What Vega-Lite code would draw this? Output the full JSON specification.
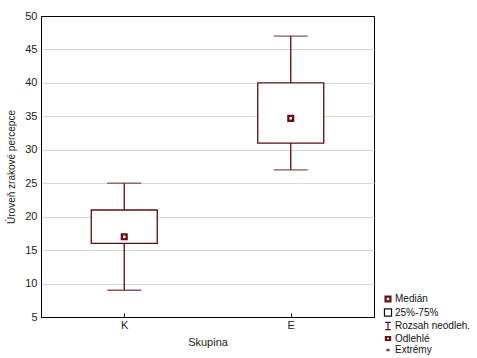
{
  "$schema": "https://vega.github.io/schema/vega-lite/v6.json",
  "autosize": {"type": "none"},
  "padding": {"left": 41, "top": 16, "right": 103, "bottom": 41},
  "width": 333,
  "height": 301,
  "background": "white",
  "config": {
    "view": {"stroke": "black", "strokeWidth": 1},
    "font": "Liberation Sans",
    "axisY": {
      "tickCount": 10,
      "labelOverlap": false,
      "labelFontSize": 11,
      "labelColor": "#222",
      "labelPadding": 4,
      "ticks": false,
      "domain": true,
      "domainColor": "black",
      "domainWidth": 1,
      "gridColor": {"condition": {"test": "datum.value == 50 || datum.value == 5", "value": "black"}, "value": "#d6d6d6"},
      "gridWidth": 1,
      "titleFontSize": 10,
      "titleFontWeight": "normal",
      "titleColor": "#222",
      "titlePadding": 8
    }
  },
  "data": {
    "values": [
      {"skupina": "K", "low": 9, "q1": 16, "median": 17, "q3": 21, "high": 25, "item": "Medián"},
      {"skupina": "E", "low": 27, "q1": 31, "median": 34.7, "q3": 40, "high": 47, "item": "Medián"}
    ]
  },
  "encoding": {
    "x": {
      "field": "skupina",
      "type": "nominal",
      "sort": ["K", "E"],
      "scale": {"type": "point", "padding": 0.5},
      "axis": {
        "title": "Skupina",
        "labelAngle": 0,
        "labelFontSize": 11,
        "labelColor": "#222",
        "labelPadding": 6,
        "titleFontSize": 11,
        "titleFontWeight": "normal",
        "titleColor": "#222",
        "titlePadding": 6,
        "domain": true,
        "domainColor": "black",
        "tickSize": -4,
        "tickColor": "black",
        "grid": false
      }
    }
  },
  "layer": [
    {
      "mark": {"type": "rule", "color": "#5e0c14", "strokeWidth": 1.3},
      "encoding": {
        "y": {
          "field": "low",
          "type": "quantitative",
          "scale": {"domain": [5, 50], "nice": false, "zero": false},
          "axis": {"title": "Úroveň zrakové percepce"}
        },
        "y2": {"field": "high"}
      }
    },
    {
      "mark": {"type": "tick", "color": "#5e0c14", "size": 34, "thickness": 1.3},
      "encoding": {"y": {"field": "low", "type": "quantitative", "axis": {"title": "Úroveň zrakové percepce"}}}
    },
    {
      "mark": {"type": "tick", "color": "#5e0c14", "size": 34, "thickness": 1.3},
      "encoding": {"y": {"field": "high", "type": "quantitative", "axis": {"title": "Úroveň zrakové percepce"}}}
    },
    {
      "mark": {"type": "bar", "fill": "white", "stroke": "#5e0c14", "strokeWidth": 1.3, "size": 66},
      "encoding": {
        "y": {"field": "q1", "type": "quantitative", "axis": {"title": "Úroveň zrakové percepce"}},
        "y2": {"field": "q3"}
      }
    },
    {
      "mark": {"type": "point", "filled": true, "size": 50, "strokeWidth": 0, "opacity": 1},
      "encoding": {
        "y": {"field": "median", "type": "quantitative", "axis": {"title": "Úroveň zrakové percepce"}},
        "shape": {
          "field": "item",
          "type": "nominal",
          "scale": {
            "domain": ["Medián", "25%-75%", "Rozsah neodleh.", "Odlehlé", "Extrémy"],
            "range": [
              "M-1,-1H1V1H-1Z M-0.35,-0.35V0.35H0.35V-0.35Z",
              "M-1,-1H1V1H-1Z",
              "M-0.8,-1H0.8M0,-1V1M-0.8,1H0.8",
              "M-0.9,-0.7H0.9V0.7H-0.9Z M-0.3,-0.2V0.2H0.3V-0.2Z",
              "M-0.6,0H0.6M0,-0.45V0.45"
            ]
          },
          "legend": {
            "title": null,
            "orient": "none",
            "legendX": 342,
            "legendY": 278,
            "labelFontSize": 10,
            "labelColor": "#111",
            "labelOffset": 2,
            "symbolSize": 50,
            "symbolStrokeWidth": 1.2,
            "rowPadding": 1.5,
            "symbolOffset": 0
          }
        },
        "fill": {
          "field": "item",
          "type": "nominal",
          "scale": {
            "domain": ["Medián", "25%-75%", "Rozsah neodleh.", "Odlehlé", "Extrémy"],
            "range": ["#6b0e18", "transparent", "transparent", "#6b0e18", "transparent"]
          },
          "legend": null
        },
        "stroke": {
          "field": "item",
          "type": "nominal",
          "scale": {
            "domain": ["Medián", "25%-75%", "Rozsah neodleh.", "Odlehlé", "Extrémy"],
            "range": ["transparent", "#111111", "#6b0e18", "transparent", "#6b0e18"]
          },
          "legend": null
        }
      }
    }
  ]
}
